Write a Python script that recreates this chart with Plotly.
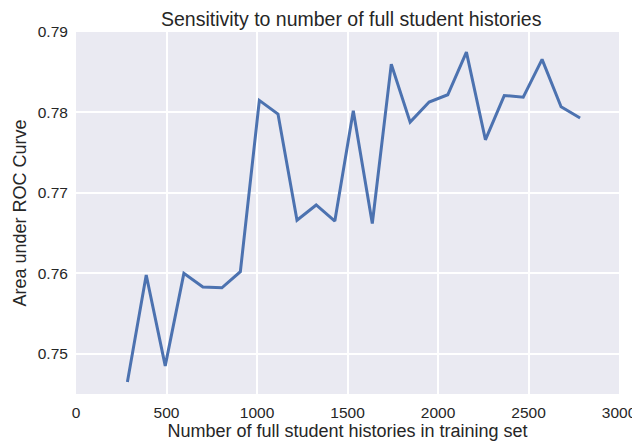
import plotly.graph_objects as go

# training set sizes and AUC
n_histories = [284, 388, 493, 596, 701, 806, 908, 1013, 1116, 1221, 1327, 1430,
               1532, 1637, 1742, 1846, 1951, 2054, 2157, 2262, 2366, 2471,
               2575, 2680, 2785]
auc = [0.7465, 0.7598, 0.7485, 0.7600, 0.7583, 0.7582, 0.7602, 0.7815,
       0.7798, 0.7666, 0.7685, 0.7665, 0.7802, 0.7662, 0.7860, 0.7788,
       0.7813, 0.7822, 0.7875, 0.7766, 0.7821, 0.7819, 0.7866, 0.7807,
       0.7793]

x_ticks = [0, 500, 1000, 1500, 2000, 2500, 3000]
y_ticks = [0.75, 0.76, 0.77, 0.78, 0.79]

FONT = "Liberation Sans, Arial, sans-serif"

fig = go.Figure()
fig.add_trace(go.Scatter(
    x=n_histories, y=auc, mode="lines",
    line=dict(color="#4C72B0", width=3),
    showlegend=False,
))

# page body has an 8px margin, so the figure is 8px smaller than the window
fig.update_layout(
    width=632, height=437,
    margin=dict(l=68, r=21, t=24, b=51, autoexpand=False),
    paper_bgcolor="white",
    plot_bgcolor="#EAEAF2",
    font=dict(family=FONT, size=15.5, color="#262626"),
    title=dict(text="Sensitivity to number of full student histories",
               x=0.543, xanchor="center", y=0.974, yanchor="middle",
               font=dict(size=19.5, color="#262626")),
    xaxis=dict(
        range=[0, 3000], tickvals=x_ticks, showline=False, zeroline=False,
        gridcolor="white", gridwidth=1.5, ticks="outside", ticklen=4,
        tickcolor="white", automargin=False,
        title=dict(text="Number of full student histories in training set",
                   font=dict(size=18), standoff=4),
    ),
    yaxis=dict(
        range=[0.745, 0.79], tickvals=y_ticks, tickformat=".2f",
        showline=False, zeroline=False, automargin=False,
        gridcolor="white", gridwidth=1.5, ticks="outside", ticklen=4,
        tickcolor="white",
        title=dict(text="Area under ROC Curve", font=dict(size=18), standoff=6),
    ),
)

fig.write_html("out.html")
